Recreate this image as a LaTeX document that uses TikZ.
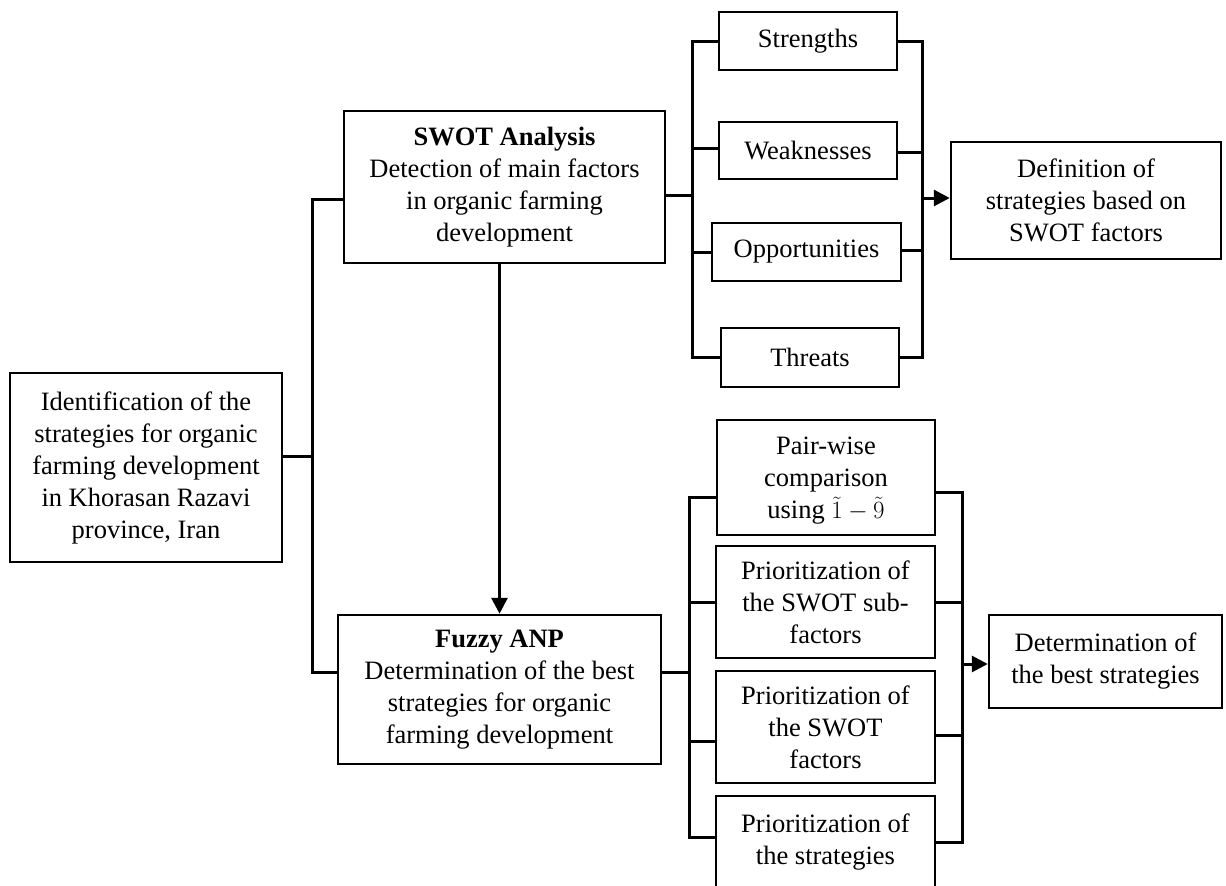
\documentclass[tikz,border=0pt]{standalone}
\usepackage{fontspec}
\setmainfont{Liberation Serif}
\usetikzlibrary{arrows.meta,calc}
\begin{document}
\begin{tikzpicture}[x=1pt,y=-1pt,
  box/.style={draw=black,line width=2.5pt,align=center,inner sep=0pt,
    font=\fontsize{26.5}{32}\selectfont},
  plain/.style={align=center,inner sep=0pt,font=\fontsize{26.5}{32}\selectfont},
  conn/.style={draw=black,line width=3pt,line join=miter},
  arr/.style={conn,-{Triangle[length=16pt,width=16pt]}}]
\useasboundingbox (0,0) rectangle (1226,886);
\clip (0,0) rectangle (1226,886);
% main boxes
\node[box,minimum width=272pt,minimum height=189pt] (ident) at (146,467.5)
  {Identification of the\\strategies for organic\\farming development\\in Khorasan Razavi\\province, Iran};
\node[box,minimum width=321pt,minimum height=152pt] (swot) at (504.5,187)
  {\textbf{SWOT Analysis}\\Detection of main factors\\in organic farming\\development};
\node[box,minimum width=323pt,minimum height=149pt] (fuzzy) at (499.5,689.5)
  {\textbf{Fuzzy ANP}\\Determination of the best\\strategies for organic\\farming development};
% SWOT factors
\node[box,minimum width=178pt,minimum height=58pt] (str) at (808,41) {Strengths};
\node[box,minimum width=178pt,minimum height=57pt] (weak) at (808,150.5) {Weaknesses};
\node[box,minimum width=189pt,minimum height=58pt] (opp) at (806.5,252) {Opportunities};
\node[box,minimum width=178pt,minimum height=59pt] (thr) at (810,357.5) {Threats};
\node[box,minimum width=270pt,minimum height=117pt] (def) at (1086,200.5)
  {Definition of\\strategies based on\\SWOT factors};
% Fuzzy ANP steps
\node[box,minimum width=218pt,minimum height=115pt] (pair) at (826,477.5) {};
\node[plain] (pairtext) at (826,481)
  {Pair-wise\\comparison\\using $\tilde{1}-\tilde{9}$};
\node[box,minimum width=219pt,minimum height=112pt] (psub) at (825.5,602)
  {Prioritization of\\the SWOT sub-\\factors};
\node[box,minimum width=219pt,minimum height=112pt] (pfac) at (825.5,727)
  {Prioritization of\\the SWOT\\factors};
\node[box,minimum width=219pt,minimum height=112pt] (pstr) at (825.5,852) {};
\node[plain] (pstrtext) at (825.5,842) {Prioritization of\\the strategies};
\node[box,minimum width=233pt,minimum height=93pt] (det) at (1105.5,661.5)
  {Determination of\\the best strategies};
% bus x positions
\coordinate (lbus) at (312,0);
\coordinate (sbusL) at (692,0);
\coordinate (sbusR) at (922,0);
\coordinate (fbusL) at (689,0);
\coordinate (fbusR) at (962,0);
% left bus
\coordinate (ie) at ([yshift=11.5pt]ident.east);
\coordinate (sw) at ([yshift=-12pt]swot.west);
\coordinate (fw) at ([yshift=17.5pt]fuzzy.west);
\draw[conn] (sw) -| (lbus |- fw) -- (fw);
\draw[conn] (ie) -- (ie -| lbus);
% SWOT to Fuzzy arrow
\draw[arr] (fuzzy.north |- swot.south) -- (fuzzy.north);
% SWOT factor buses
\coordinate (se) at ([yshift=-8pt]swot.east);
\draw[conn] (str.west) -| (sbusL |- thr.west) -- (thr.west);
\draw[conn] (se) -- (se -| sbusL);
\draw[conn] ([yshift=2.5pt]weak.west) -- ([yshift=2.5pt]weak.west -| sbusL);
\draw[conn] (opp.west) -- (opp.west -| sbusL);
\draw[conn] (str.east) -| (sbusR |- thr.east) -- (thr.east);
\draw[conn] ([yshift=-1.5pt]weak.east) -- ([yshift=-1.5pt]weak.east -| sbusR);
\draw[conn] ([yshift=2pt]opp.east) -- ([yshift=2pt]opp.east -| sbusR);
\coordinate (dw) at ([yshift=2.5pt]def.west);
\draw[arr] (dw -| sbusR) -- (dw);
% Fuzzy step buses
\coordinate (fe) at ([yshift=17.5pt]fuzzy.east);
\coordinate (pw) at ([yshift=-19.5pt]pair.west);
\coordinate (pe) at ([yshift=-14.5pt]pair.east);
\coordinate (sfw) at ([yshift=-14pt]pfac.west);
\coordinate (sfe) at ([yshift=-8pt]pfac.east);
\coordinate (stw) at ([yshift=15pt]pstr.west);
\coordinate (ste) at ([yshift=10pt]pstr.east);
\draw[conn] (pw) -| (fbusL |- stw) -- (stw);
\draw[conn] (fe) -- (fe -| fbusL);
\draw[conn] (psub.west) -- (psub.west -| fbusL);
\draw[conn] (sfw) -- (sfw -| fbusL);
\draw[conn] (pe) -| (fbusR |- ste) -- (ste);
\draw[conn] (psub.east) -- (psub.east -| fbusR);
\draw[conn] (sfe) -- (sfe -| fbusR);
\coordinate (tw) at ([yshift=-2.5pt]det.west);
\draw[arr] (tw -| fbusR) -- (tw);
\end{tikzpicture}
\end{document}
